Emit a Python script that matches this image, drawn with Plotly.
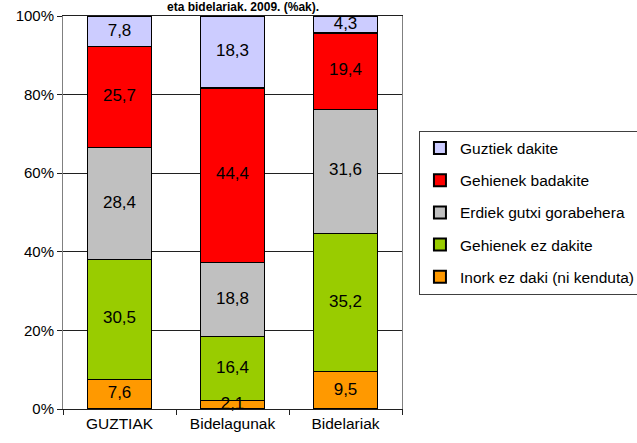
import plotly.graph_objects as go

categories = ["GUZTIAK", "Bidelagunak", "Bidelariak"]
series_names = ["Inork ez daki (ni kenduta)", "Gehienek ez dakite", "Erdiek gutxi gorabehera",
                "Gehienek badakite", "Guztiek dakite"]
inork = [7.6, 2.1, 9.5]
gehienek_ez = [30.5, 16.4, 35.2]
erdiek = [28.4, 18.8, 31.6]
gehienek_bai = [25.7, 44.4, 19.4]
guztiek = [7.8, 18.3, 4.3]
colors = ["#FF9900", "#99CC00", "#C0C0C0", "#FF0000", "#CCCCFF"]
title_text = "eta bidelariak. 2009. (%ak)."

FONT = "Liberation Sans, Arial, sans-serif"
fig = go.Figure()
all_series = [inork, gehienek_ez, erdiek, gehienek_bai, guztiek]
n = len(all_series)
for i, (name, vals, col) in enumerate(zip(series_names, all_series, colors)):
    fig.add_trace(go.Bar(
        x=categories, y=vals, name=name, legendgroup=f"g{i}", legendrank=n - i,
        marker=dict(color=col, line=dict(color="black", width=1.2)),
        hoverinfo="skip",
    ))

# value labels at the centre of each stacked segment
lx, ly, lt = [], [], []
for ci, cat in enumerate(categories):
    base = 0.0
    for vals in all_series:
        v = vals[ci]
        lx.append(cat)
        ly.append(base + v / 2)
        lt.append(f"{v:.1f}".replace(".", ","))
        base += v
fig.add_trace(go.Scatter(x=lx, y=ly, text=lt, mode="text", showlegend=False,
                         textfont=dict(family=FONT, size=17, color="black"),
                         hoverinfo="skip", cliponaxis=False))

fig.update_layout(
    width=637, height=443,
    margin=dict(l=63, r=235, t=16, b=34, autoexpand=False),
    barmode="stack", bargap=0.44,
    plot_bgcolor="white", paper_bgcolor="white",
    font=dict(family=FONT, size=16, color="black"),
    showlegend=True,
    legend=dict(traceorder="grouped", x=1.05, xanchor="left", y=0.5, yanchor="middle",
                bordercolor="#404040", borderwidth=1, font=dict(size=15.5, family=FONT),
                tracegroupgap=9, itemwidth=30, itemsizing="constant"),
)
fig.update_yaxes(range=[0, 100], tickvals=[0, 20, 40, 60, 80, 100],
                 ticktext=["0%", "20%", "40%", "60%", "80%", "100%"],
                 showgrid=True, gridcolor="#202020", gridwidth=1,
                 showline=True, linecolor="#808080", mirror=True,
                 ticks="outside", ticklen=5, tickcolor="#202020", automargin=False,
                 tickfont=dict(size=15, family=FONT), zeroline=False)
fig.update_xaxes(showline=True, linecolor="#202020", mirror=True, automargin=False,
                 ticks="outside", ticklen=5, tickson="boundaries", tickcolor="#202020",
                 tickfont=dict(size=15.5, family=FONT))
fig.add_annotation(text="<b>" + title_text + "</b>", xref="paper", yref="paper",
                   x=0.53, y=1.0, yshift=0, yanchor="bottom", showarrow=False,
                   font=dict(size=12, family=FONT, color="black"))
fig.write_html("out.html", config={"displayModeBar": False},
               post_script="document.body.style.margin='0px';")
